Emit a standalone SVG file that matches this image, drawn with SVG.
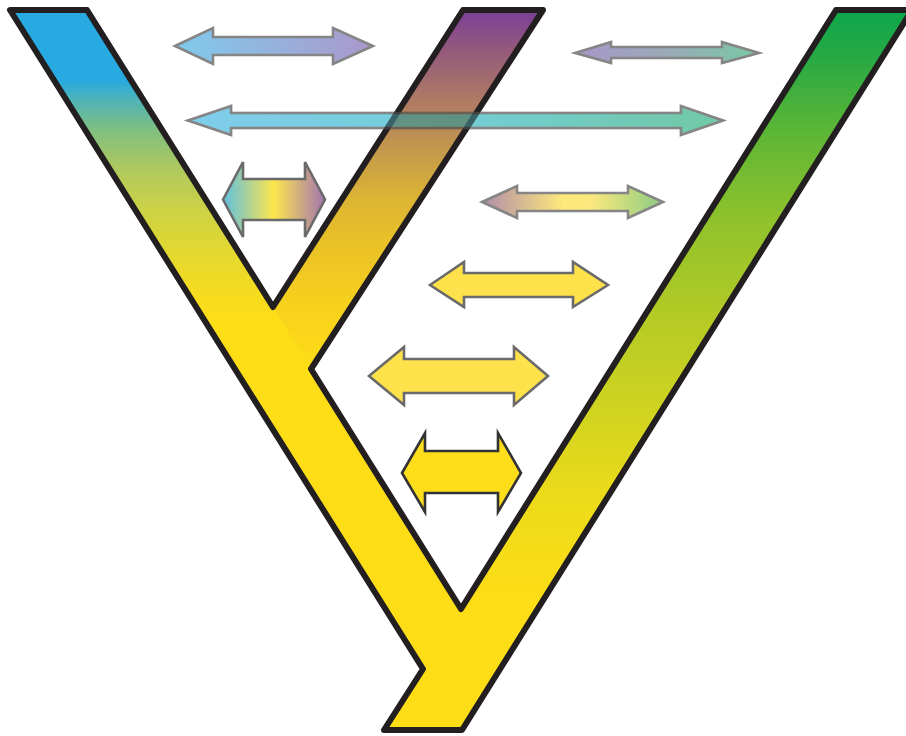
<svg xmlns="http://www.w3.org/2000/svg" width="906" height="736" viewBox="0 0 906 736">
<defs>
<style>
.outline{fill:none;stroke:#231f20;stroke-width:6;stroke-linejoin:round}
.arr{stroke:#858585;stroke-width:2.6;stroke-linejoin:miter;mix-blend-mode:multiply}
.arrd{stroke:#6a6a6a}
</style>
<clipPath id="treeClip">
<polygon points="10,10 87,10 273,307 463,10 543,10 311,369 461,609 836,10 912,10 462,730 384,730 423,669"/>
</clipPath>
<linearGradient id="gBlue" gradientUnits="userSpaceOnUse" x1="0" y1="10" x2="0" y2="320">
<stop offset="0" stop-color="#27a9e1"/>
<stop offset="0.226" stop-color="#27a9e1"/>
<stop offset="0.29" stop-color="#4fb3b8"/>
<stop offset="0.387" stop-color="#80bf80"/>
<stop offset="0.516" stop-color="#b0c95e"/>
<stop offset="0.645" stop-color="#ccd245"/>
<stop offset="0.774" stop-color="#e2d831"/>
<stop offset="0.903" stop-color="#f5db20"/>
<stop offset="1" stop-color="#fddd16"/>
</linearGradient>
<linearGradient id="gPurple" gradientUnits="userSpaceOnUse" x1="0" y1="10" x2="0" y2="370">
<stop offset="0" stop-color="#7b3f98"/>
<stop offset="0.11" stop-color="#94597c"/>
<stop offset="0.25" stop-color="#ae7a64"/>
<stop offset="0.417" stop-color="#c89e46"/>
<stop offset="0.528" stop-color="#ddb534"/>
<stop offset="0.667" stop-color="#ebc326"/>
<stop offset="0.833" stop-color="#f7d21c"/>
<stop offset="1" stop-color="#fddd16"/>
</linearGradient>
<linearGradient id="gGreen" gradientUnits="userSpaceOnUse" x1="0" y1="10" x2="0" y2="600">
<stop offset="0" stop-color="#0ca64b"/>
<stop offset="0.085" stop-color="#2aa944"/>
<stop offset="0.203" stop-color="#5bb636"/>
<stop offset="0.356" stop-color="#8fc22c"/>
<stop offset="0.525" stop-color="#b5cb25"/>
<stop offset="0.695" stop-color="#d3d41f"/>
<stop offset="0.83" stop-color="#eddb19"/>
<stop offset="1" stop-color="#fddd16"/>
</linearGradient>
<linearGradient id="a1" x1="0" y1="0" x2="1" y2="0">
<stop offset="0" stop-color="#7fcbec"/>
<stop offset="1" stop-color="#ab98cc"/>
</linearGradient>
<linearGradient id="a2" x1="0" y1="0" x2="1" y2="0">
<stop offset="0" stop-color="#7fcdec"/>
<stop offset="0.5" stop-color="#74cdd6"/>
<stop offset="1" stop-color="#70c9a4"/>
</linearGradient>
<linearGradient id="a3" x1="0" y1="0" x2="1" y2="0">
<stop offset="0" stop-color="#5fbfe0"/>
<stop offset="0.5" stop-color="#fde64e"/>
<stop offset="1" stop-color="#a374b0"/>
</linearGradient>
<linearGradient id="a4" x1="0" y1="0" x2="1" y2="0">
<stop offset="0" stop-color="#b08ca8"/>
<stop offset="0.45" stop-color="#fde97c"/>
<stop offset="0.6" stop-color="#fbe97d"/>
<stop offset="1" stop-color="#8ccc82"/>
</linearGradient>
<linearGradient id="a8" x1="0" y1="0" x2="1" y2="0">
<stop offset="0" stop-color="#a897c9"/>
<stop offset="0.5" stop-color="#9aaab8"/>
<stop offset="1" stop-color="#78c9a4"/>
</linearGradient>
</defs>
<rect width="906" height="736" fill="#ffffff"/>
<g id="tree">
<g clip-path="url(#treeClip)">
<rect x="0" y="0" width="906" height="736" fill="#fddd16"/>
<polygon id="branch-blue" points="0,0 200,0 273,307 311,369 270,430 0,430" fill="url(#gBlue)"/>
<polygon id="branch-purple" points="290,0 620,0 620,200 311,369 273,307" fill="url(#gPurple)"/>
<polygon id="branch-green" points="620,0 920,0 920,736 400,736 440,610" fill="url(#gGreen)"/>
</g>
<polygon class="outline" points="10,10 87,10 273,307 463,10 543,10 311,369 461,609 836,10 912,10 462,730 384,730 423,669"/>
</g>
<g id="arrows">
<path id="arrow1" class="arr" fill="url(#a1)" d="M175,46 L213,28 L213,37 L333,37 L333,28 L373,46 L333,64 L333,55 L213,55 L213,64 Z"/>
<g id="arrow2">
<path class="arr" fill="url(#a2)" d="M188,120.5 L231,106 L231,113 L681,113 L681,106 L723,120.5 L681,135 L681,128 L231,128 L231,135 Z"/>
<path fill="url(#a2)" stroke="#858585" stroke-width="2.6" opacity="0.4" d="M188,120.5 L231,106 L231,113 L681,113 L681,106 L723,120.5 L681,135 L681,128 L231,128 L231,135 Z"/>
</g>
<path id="arrow3" class="arr arrd" fill="url(#a3)" d="M223,199.5 L243,162 L243,179 L305,179 L305,162 L325,199.5 L305,237 L305,220 L243,220 L243,237 Z"/>
<path id="arrow4" class="arr" fill="url(#a4)" d="M482,202 L517,186 L517,193 L628,193 L628,186 L663,202 L628,218 L628,211 L517,211 L517,218 Z"/>
<path id="arrow5" class="arr arrd" fill="#ffe24b" d="M430,285 L464,262 L464,273 L573,273 L573,262 L608,285 L573,307 L573,297 L464,297 L464,307 Z"/>
<path id="arrow6" class="arr arrd" fill="#ffe24b" d="M369,376 L404,347 L404,359 L514,359 L514,347 L548,376 L514,405 L514,393 L404,393 L404,405 Z"/>
<path id="arrow7" class="arr" style="stroke:#333333" fill="#fedd1a" d="M402,473 L425,433 L425,451 L498,451 L498,433 L521,473 L498,512 L498,493 L425,493 L425,512 Z"/>
<path id="arrow8" class="arr" fill="url(#a8)" d="M575,53 L611,42 L611,47 L722,47 L722,42 L759,53 L722,63 L722,58 L611,58 L611,63 Z"/>
</g>
</svg>
